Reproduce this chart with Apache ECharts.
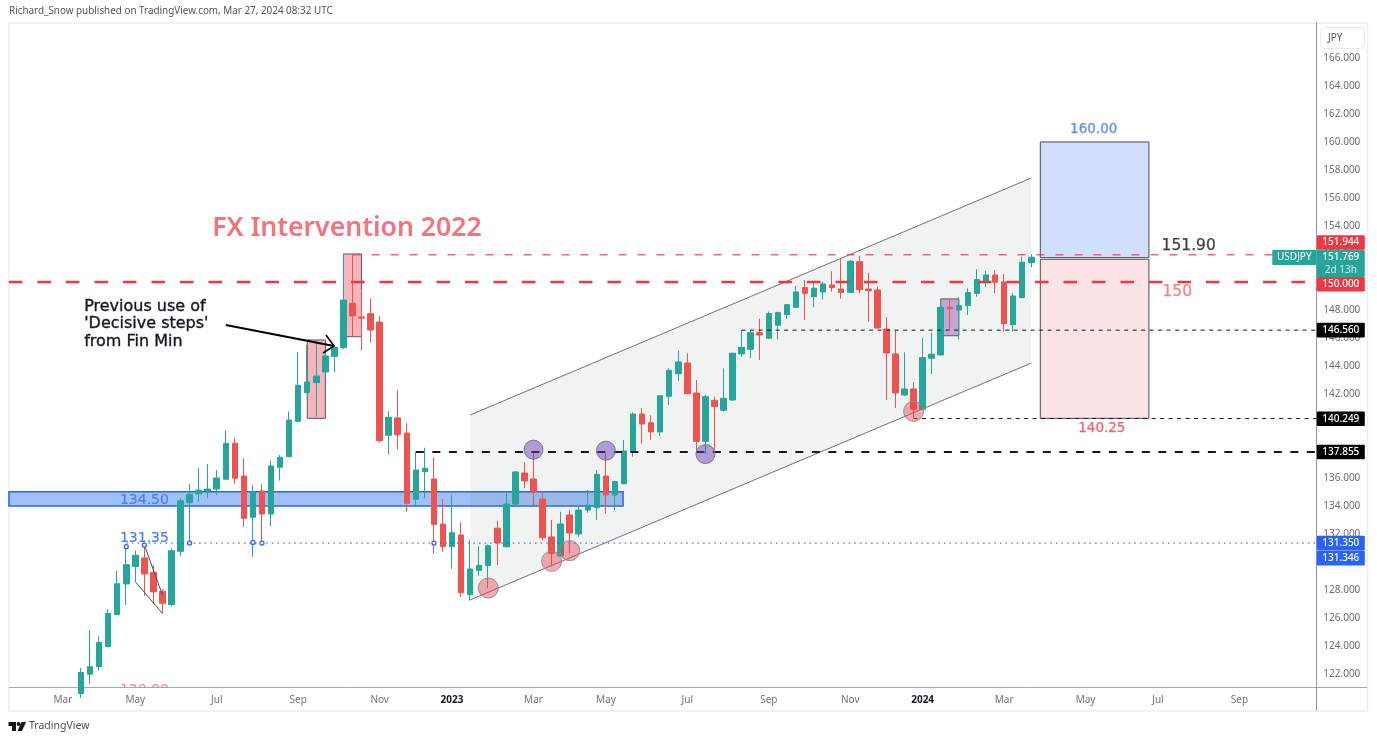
<!DOCTYPE html>
<html><head><meta charset="utf-8">
<style>html,body{margin:0;padding:0;background:#fff}#c{width:1377px;height:742px}</style>
<script src="https://cdn.jsdelivr.net/npm/echarts@6/dist/echarts.min.js"></script>
</head><body><div id="c"></div>
<script>
// weekly USDJPY candles
const opens=[120.6,121.98,122.52,123.95,126.24,128.43,129.67,130.29,129.26,127.9,126.95,130.76,134.24,134.86,135.07,135.21,135.91,138.48,136.14,133.19,135.07,133.43,136.76,137.52,140.05,142.1,142.81,143.57,144.67,145.31,148.48,147.5,147.74,147.14,139.05,140.29,139.21,134.48,136.45,135.93,132.71,131.1,131.93,127.67,129.4,129.74,132.41,131.09,134.14,136.36,135.93,134.5,131.79,130.43,133.36,132,133.71,133.88,136.14,134.79,135.59,137.88,140.57,139.95,139.29,141.84,143.45,144.21,142.07,138.62,141.55,140.84,141.57,144.86,145.19,146.38,145.98,146.91,147.67,148.19,149.6,148.95,149.29,149.79,149.5,149.26,151.45,149.5,149.43,146.64,144.86,141.93,142.36,140.91,144.55,144.79,148.19,148,148.31,149.19,149.98,150.5,150,146.95,148.88,151.38];
const closes=[122.1,122.52,124.26,126.33,128.45,129.81,130.48,129.14,127.86,127.05,130.81,134.38,134.84,135.14,135.21,136,138.48,135.98,133.12,135.02,133.43,136.86,137.48,140.14,142.62,142.86,143.29,144.71,145.33,148.71,147.57,147.42,146.57,138.66,140.34,139.09,134.19,136.57,136.69,132.69,131.1,132.09,127.81,129.5,129.76,131.16,131.36,134.14,136.43,135.79,135.02,131.74,130.62,132.71,132.07,133.71,134.05,136.26,134.79,135.74,137.93,140.57,139.86,139.29,141.88,143.69,144.29,142.02,138.62,141.81,141.1,141.69,144.91,145.33,146.38,146.21,147.74,147.81,148.38,149.29,149.19,149.55,149.86,149.6,149.26,151.48,149.45,149.38,146.71,144.93,142.07,142.36,140.91,144.59,144.84,148.19,148.09,148.31,149.24,150.17,150.5,149.98,147.02,149,151.41,151.77];
const lows=[120.3,121.29,122.24,123.9,126.2,126.93,128.59,127.57,127,126.33,126.86,130.43,131.34,134.29,134.55,134.79,135.9,135.57,132.52,130.38,131.45,132.57,135.81,137.5,140,142.05,140.38,143.55,143.57,145.2,146.1,145.1,145.66,138.52,137.69,138.05,133.59,134.07,134.55,130.57,130.74,129.5,127.48,127.24,129.02,128.12,129.76,131.05,133.91,135.26,134.07,131.57,129.67,130.4,130.62,131.8,133.52,133,133.48,133.71,135.55,137.52,138.45,138.71,139,141.21,142.93,142,137.88,137.71,138,140.74,141.5,144.67,144.55,144.43,145.95,145.9,147.36,148.15,147.29,148.2,148.76,149.31,148.81,149.2,149.19,147.16,146.66,141.57,141,141.86,140.29,140.85,143.43,144.75,146.62,145.9,147.64,148.95,149.66,149.19,146.45,146.45,148.85,151.05];
const highs=[122.43,125.14,124.71,126.62,129.38,131.1,130.81,131.21,129.79,128.05,130.98,134.55,135.57,136.71,137,136.57,139.41,138.86,137.41,135.5,135.57,137.24,137.64,140.76,144.98,145.5,145.86,144.93,145.4,152,151.94,149.5,148.84,147.57,140.76,142.29,139.91,137.88,138.16,137.48,134.5,134.79,132.84,131.57,131.14,131.25,132.93,135.02,136.5,137.12,137.88,135.07,133,133.59,133.71,133.95,135.14,136.57,137.76,135.8,138.71,140.69,140.98,140.48,141.9,143.83,145.09,144.91,143,141.93,141.81,143.83,144.95,146.57,146.57,147.38,147.88,147.88,148.43,149.71,150.14,149.93,150.02,150.76,151.69,151.57,151.88,150.66,149.66,147.48,146.57,144.98,142.86,145.98,146.38,148.71,148.71,148.9,149.55,150.9,150.79,150.86,150.57,149.19,151.81,151.98];
// time axis: bar index of each tick and its label
const tickBars=[-2,6,15,24,33,41,50,58,67,76,85,93,102,111,119,128];
const tickLabels=['Mar 22','May 22','Jul 22','Sep 22','Nov 22','2023','Mar 23','May 23','Jul 23','Sep 23','Nov 23','2024','Mar 24','May 24','Jul 24','Sep 24'];
const priceTicks=[122,124,126,128,130,132,134,136,138,140,142,144,146,148,150,152,154,156,158,160,162,164,166];
// drawings, in [bar index, price]
const channelUpper=[[43,140.5],[105,157.43]];
const channelLower=[[43,127.29],[105,144.21]];
const zoneBar=[-7.96,59.9], zonePrice=[135.02,133.99];
const pinkBoxes=[[25,27,145.86,140.26],[29,31,152,146.09]];
const purpleBox=[95,97,148.79,146.16];
const targetBox=[106,118,160,151.74];
const stopBox=[106,118,151.62,140.26];
const wedgeLower=[[6,128.59],[9,126.33]];
const wedgeUpper=[[7,131.21],[9,127.64]];
const arrowLine=[[16.0,146.93],[27.96,145.43]];
const arrowHead=[[27.07,146.21],[27.96,145.43],[26.74,144.93]];
const pinkCircles=[[45,128.14],[52,130.05],[54,130.81],[92,140.76]];
const purpleCircles=[[50,138.02],[58,137.95],[69,137.71]];
const blueHandles=[[5,131.09],[7,131.21],[12,131.35],[19,131.4],[20,131.35],[39,131.35]];
const levelLines={l150:[-7.96,150],l151944:[30,151.944],l14656:[73,146.56],l140249:[92,140.249],l137855:[37,137.855],l13135:[5,131.35]};
const chartTexts=[
 ['FX Intervention 2022',14.5,153.86,'#f6727e','600 26.6px "Noto Sans"','left',0],
 ['Previous use of',0.35,148.21,'#131722','16px "DejaVu Sans"','left',0.35],
 ["'Decisive steps'",0.35,147,'#131722','16px "DejaVu Sans"','left',0.35],
 ['from Fin Min',0.35,145.71,'#131722','16px "DejaVu Sans"','left',0.35],
 ['160.00',111.9,160.86,'#5b8cff','500 13.5px "DejaVu Sans"','center',0.25],
 ['151.90',119.4,152.57,'#3a3d45','500 15.5px "DejaVu Sans"','left',0.25],
 ['150',119.5,149.29,'#f77e88','500 15.5px "DejaVu Sans"','left',0.25],
 ['140.25',112.8,139.5,'#f7616d','500 13.5px "DejaVu Sans"','center',0.25],
 ['134.50',4.3,134.43,'#4a7dfb','14px "DejaVu Sans"','left',0.2],
 ['131.35',4.3,131.71,'#4a7dfb','14px "DejaVu Sans"','left',0.2],
 ['120.00',4.3,120.8,'#f77e88','14px "DejaVu Sans"','left',0]
];
const priceTags=[
 ['151.944',151.944,-12.3,'#f23645'],['150.000',150,2.2,'#f23645'],
 ['146.560',146.56,0,'#000'],['140.249',140.249,0.3,'#000'],['137.855',137.855,0,'#000'],
 ['131.350',131.35,0,'#2962ff'],['131.346',131.346,15,'#2962ff']
];
const lastPrice=['151.769',151.769,'2d 13h','USDJPY'];

const xEnd=136.5, GRIDR=1316.3, LEAD=8;
const names=[];
for(let i=0;i<145;i++){const t=tickBars.indexOf(i-LEAD);names.push(t>=0?tickLabels[t]:'w'+i);}
const ui='"Noto Sans"';
const candles=[];
for(let i=0;i<LEAD;i++)candles.push(['-','-','-','-']);
opens.forEach((o,i)=>candles.push([o,closes[i],lows[i],highs[i]]));
const silentAnim={silent:true,animation:false};
function rectEl(api,b,fill,stroke,lw){
  const a=api.coord([b[0],b[2]]),c=api.coord([b[1],b[3]]);
  return {type:'rect',shape:{x:a[0],y:a[1],width:c[0]-a[0],height:c[1]-a[1]},style:{fill,stroke,lineWidth:lw||1}};
}
function lineEl(api,p,q,stroke,lw,dash){
  const a=api.coord(p),b=api.coord(q);
  return {type:'line',shape:{x1:a[0],y1:a[1],x2:b[0],y2:b[1]},style:{stroke,lineWidth:lw,lineDash:dash||null,fill:null}};
}
function hLevel(api,l,stroke,lw,dash){return lineEl(api,l,[xEnd,l[1]],stroke,lw,dash);}
function under(params,api){
  const kids=[];
  kids.push(rectEl(api,[zoneBar[0],zoneBar[1],zonePrice[0],zonePrice[1]],'#9fc0f8','#2962ff',1.5));
  const pts=[channelUpper[0],channelUpper[1],channelLower[1],channelLower[0]].map(p=>api.coord(p));
  kids.push({type:'polygon',shape:{points:pts},style:{fill:'rgba(120,132,126,.1)'}});
  kids.push(lineEl(api,channelUpper[0],channelUpper[1],'#6f7177',1));
  kids.push(lineEl(api,channelLower[0],channelLower[1],'#6f7177',1));
  pinkBoxes.forEach(b=>kids.push(rectEl(api,b,'#f9b5bb','#555a60',1)));
  kids.push(rectEl(api,purpleBox,'#c7a4d8','#555a60',1));
  kids.push(rectEl(api,targetBox,'#d1dffd','#4a4d55',1));
  kids.push(rectEl(api,stopBox,'#fce4e6','#4a4d55',1));
  return {type:'group',children:kids};
}
function over(params,api){
  const kids=[];
  kids.push(hLevel(api,levelLines.l150,'#f23645',2.6,[13.5,15]));
  kids.push(hLevel(api,levelLines.l151944,'rgba(242,54,69,.75)',1.6,[8,11]));
  kids.push(hLevel(api,levelLines.l14656,'#131722',1,[4,4.5]));
  kids.push(hLevel(api,levelLines.l140249,'#131722',1,[4,4.5]));
  kids.push(hLevel(api,levelLines.l137855,'#131722',2,[8,8.5]));
  kids.push(hLevel(api,levelLines.l13135,'rgba(41,98,255,.6)',1.6,[1.6,4]));
  kids.push(lineEl(api,wedgeLower[0],wedgeLower[1],'#4a4d55',1));
  kids.push(lineEl(api,wedgeUpper[0],wedgeUpper[1],'#4a4d55',1));
  kids.push(lineEl(api,arrowLine[0],arrowLine[1],'#000',2));
  const ah=arrowHead.map(p=>api.coord(p));
  kids.push({type:'polyline',shape:{points:ah},style:{stroke:'#000',lineWidth:1.6,fill:null}});
  pinkCircles.forEach(p=>{const c=api.coord(p);kids.push({type:'circle',shape:{cx:c[0],cy:c[1],r:10},style:{fill:'rgba(235,60,70,.42)',stroke:'#8d8f95',lineWidth:1}});});
  purpleCircles.forEach(p=>{const c=api.coord(p);kids.push({type:'circle',shape:{cx:c[0],cy:c[1],r:9.5},style:{fill:'rgba(103,58,183,.47)',stroke:'#777a80',lineWidth:1}});});
  blueHandles.forEach(p=>{const c=api.coord(p);kids.push({type:'circle',shape:{cx:c[0],cy:c[1],r:2},style:{fill:'#fff',stroke:'#2962ff',lineWidth:1.3}});});
  chartTexts.forEach(t=>{const c=api.coord([t[1],t[2]]);kids.push({type:'text',style:{text:t[0],x:c[0],y:c[1],fill:t[3],font:t[4],align:t[5],verticalAlign:'middle',stroke:t[6]?t[3]:null,lineWidth:t[6]}});});
  return {type:'group',children:kids};
}
function tags(params,api){
  const kids=[];
  priceTags.forEach(t=>{
    const y=api.coord([0,t[1]])[1]+t[2];
    kids.push({type:'rect',shape:{x:GRIDR+0.5,y:y-7.3,width:48,height:14.6,r:1},style:{fill:t[3]}});
    kids.push({type:'text',style:{text:t[0],x:GRIDR+24.5,y:y,fill:'#fff',font:'500 10px '+ui,align:'center',verticalAlign:'middle'}});
  });
  const y=api.coord([0,lastPrice[1]])[1];
  kids.push({type:'rect',shape:{x:GRIDR+0.5,y:y-7.3,width:48,height:27,r:1},style:{fill:'#26a69a'}});
  kids.push({type:'text',style:{text:lastPrice[0],x:GRIDR+24.5,y:y,fill:'#fff',font:'500 10px '+ui,align:'center',verticalAlign:'middle'}});
  kids.push({type:'text',style:{text:lastPrice[2],x:GRIDR+24.5,y:y+12.5,fill:'#d4eeeb',font:'10px '+ui,align:'center',verticalAlign:'middle'}});
  kids.push({type:'rect',shape:{x:GRIDR-44,y:y-7.3,width:44,height:15,r:1},style:{fill:'#26a69a'}});
  kids.push({type:'text',style:{text:lastPrice[3],x:GRIDR-22,y:y,fill:'#fff',font:'10px '+ui,align:'center',verticalAlign:'middle'}});
  return {type:'group',children:kids};
}
const chart=echarts.init(document.getElementById('c'),null,{renderer:'canvas'});
chart.setOption({
  animation:false,backgroundColor:'#fff',
  grid:{left:4.075,top:23,width:1312.25,height:664,containLabel:false},
  xAxis:[
   {type:'category',data:names,boundaryGap:true,axisLine:{show:false},axisTick:{show:false},splitLine:{show:false},
    axisLabel:{margin:8,fontFamily:ui,fontSize:10,color:'#6f7280',
      interval:(i,v)=>tickLabels.includes(v),
      formatter:v=>{const s=v.split(' ')[0];return s.length===4?'{b|'+s+'}':s;},
      rich:{b:{fontFamily:ui,fontSize:10,fontWeight:'bold',color:'#131722'}}}},
   {type:'value',min:-8.5,max:xEnd,show:false,splitLine:{show:false}}
  ],
  yAxis:{type:'value',position:'right',min:121.07,max:121.07+664/14,
    axisLine:{show:true,onZero:false,lineStyle:{color:'#9598a1',width:1}},axisTick:{show:false},splitLine:{show:false},
    axisLabel:{customValues:priceTicks,margin:7,fontFamily:ui,fontSize:10,color:'#6a6d78',formatter:v=>v.toFixed(3)}},
  graphic:{elements:[
    {type:'text',silent:true,left:9,top:6,style:{text:'Richard_Snow published on TradingView.com, Mar 27, 2024 08:32 UTC',fill:'#50535e',font:'9.9px '+ui}},
    {type:'polyline',silent:true,z:0,shape:{points:[[9,23],[1367.5,23],[1367.5,711],[9,711],[9,23]]},style:{fill:null,stroke:'#eceef2',lineWidth:1.5}},
    {type:'line',silent:true,z:1,shape:{x1:9,y1:687.5,x2:1367,y2:687.5},style:{stroke:'#a6a8b0',lineWidth:1}},
    {type:'line',silent:true,z:1,shape:{x1:1316.5,y1:687,x2:1316.5,y2:711},style:{stroke:'#9598a1',lineWidth:1}},
    {type:'rect',silent:true,z:6,shape:{x:1320.5,y:27.5,width:44,height:21,r:4},style:{fill:'#fff',stroke:'#e6e8ee',lineWidth:1}},
    {type:'text',silent:true,z:6,left:1328,top:33,style:{text:'JPY',fill:'#50535e',font:'10px '+ui}},
    {type:'polygon',silent:true,shape:{points:[[8.5,722],[16,722],[16,731],[12,731],[12,726],[8.5,726]]},style:{fill:'#131722'}},
    {type:'circle',silent:true,shape:{cx:18.6,cy:724,r:2},style:{fill:'#131722'}},
    {type:'polygon',silent:true,shape:{points:[[21.5,722],[26,722],[22,731],[17.5,731]]},style:{fill:'#131722'}},
    {type:'text',silent:true,left:29,top:721,style:{text:'TradingView',fill:'#4a4d57',font:'10.5px '+ui}}
  ]},
  series:[
   Object.assign({type:'custom',name:'under',xAxisIndex:1,yAxisIndex:0,z:1,clip:true,data:[[0,150]],renderItem:under},silentAnim),
   {type:'candlestick',name:'USDJPY',xAxisIndex:0,yAxisIndex:0,z:2,barWidth:6,clip:true,silent:true,animation:false,data:candles,
    itemStyle:{color:'#26a69a',borderColor:'#26a69a',color0:'#ef5350',borderColor0:'#ef5350',borderWidth:1}},
   Object.assign({type:'custom',name:'over',xAxisIndex:1,yAxisIndex:0,z:3,clip:true,data:[[0,150]],renderItem:over},silentAnim),
   Object.assign({type:'custom',name:'tags',xAxisIndex:1,yAxisIndex:0,z:5,clip:false,data:[[0,150]],renderItem:tags},silentAnim)
  ]
});
</script></body></html>
